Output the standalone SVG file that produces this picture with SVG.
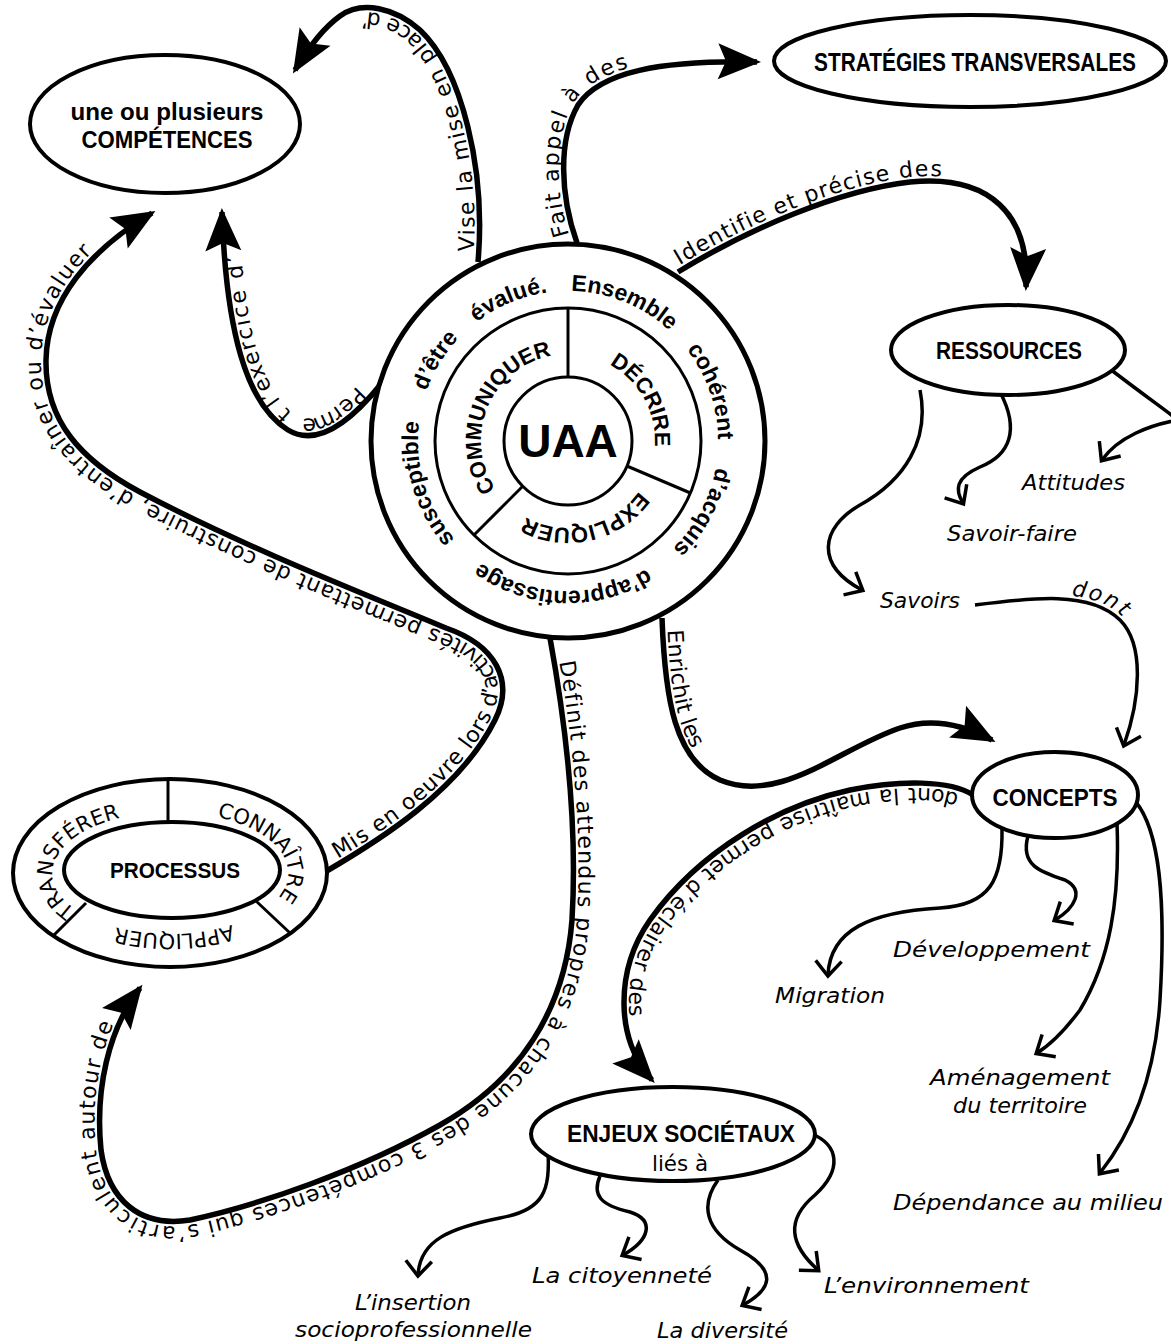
<svg xmlns="http://www.w3.org/2000/svg" width="1171" height="1344" viewBox="0 0 1171 1344">
<defs>
<style>
.n{fill:#fff;stroke:#000;stroke-width:4}
.c{fill:none;stroke:#000;stroke-width:5.5;marker-end:url(#big)}
.t{fill:none;stroke:#000;stroke-width:3.5;marker-end:url(#chev)}
.d{fill:none;stroke:#000;stroke-width:3}
.lbl{font-family:"DejaVu Sans",sans-serif;font-size:22px;fill:#000}
.b{font-family:"Liberation Sans",Arial,sans-serif;font-weight:bold;fill:#000}
.it{font-family:"DejaVu Sans",sans-serif;font-style:italic;font-size:22px;fill:#000}
.ring{font-family:"DejaVu Sans",sans-serif;font-size:21px;fill:#000}
</style>
<marker id="big" markerUnits="userSpaceOnUse" viewBox="-42 -20 48 40" markerWidth="48" markerHeight="40" refX="0" refY="0" orient="auto" overflow="visible"><path d="M4,0 L-39,-18 L-31,0 L-39,18 Z" fill="#000"/></marker>
<marker id="chev" markerUnits="userSpaceOnUse" viewBox="-18 -16 22 32" markerWidth="22" markerHeight="32" refX="0" refY="0" orient="auto" overflow="visible"><path d="M-14,-13 L1,0 L-14,13" fill="none" stroke="#000" stroke-width="3.5"/></marker>
<path id="ringO" d="M418,441 A150,150 0 0 1 718,441 A150,150 0 0 1 418,441 A150,150 0 0 1 718,441 A150,150 0 0 1 418,441"/>
<path id="ringM" d="M481,441 A87,87 0 0 1 655,441 A87,87 0 0 1 481,441 A87,87 0 0 1 655,441 A87,87 0 0 1 481,441"/>
<path id="pr1" d="M129.6,930.3 A118,61 0 0 1 178.2,812.2"/>
<path id="pr2" d="M174.1,812 A118,61 0 0 1 242.6,921.1"/>
<path id="pr3" d="M275.1,900.7 A118,61 0 0 1 71,906.2"/>
</defs>
<rect width="1171" height="1344" fill="#fff"/>

<g id="connectors">
<path id="pA" class="c" d="M478,262 C486,170 462,70 420,30 C395,8 362,0 340,16 C326,26 310,45 295,70"/>
<path id="pB" class="c" d="M381,384 C352,420 318,448 288,430 C246,404 226,330 222,212"/>
<path id="pC" class="c" d="M577,243 C560,195 558,140 578,105 C600,72 660,60 757,62"/>
<path id="pD" class="c" d="M678,272 C750,228 840,190 910,182 C990,174 1030,215 1026,287"/>
<path id="pE" class="c" d="M662,618 C665,700 675,760 720,780 C780,805 840,748 900,728 C930,718 962,724 992,740"/>
<path id="pF" class="c" d="M550,638 C565,720 578,820 572,920 C565,1010 520,1080 440,1125 C360,1170 260,1205 190,1220 C140,1228 108,1200 101,1150 C95,1090 108,1030 140,988"/>
<path id="pG" class="c" d="M325,872 C380,840 460,790 495,720 C515,680 495,645 446,628 C380,600 250,550 140,492 C80,460 45,420 46,360 C47,300 90,250 152,213"/>
<path id="pI5" class="c" d="M973,795 C950,780 900,780 850,790 C780,805 700,850 650,920 C615,970 615,1040 652,1080"/>
<path id="pH1" class="t" d="M920,390 C930,440 905,480 860,505 C820,528 815,565 862,590"/>
<path id="pH2" class="t" d="M1000,392 C1020,430 1010,455 980,467 C955,478 955,490 963,503"/>
<path id="pH3" class="t" d="M1110,369 C1140,392 1165,410 1178,420 C1150,425 1118,437 1102,460"/>
<path id="pH4" class="t" d="M975,605 C1030,598 1090,590 1120,620 C1145,645 1140,700 1124,745"/>
<path id="pI1" class="t" d="M1002,828 C1003,880 990,905 940,908 C870,912 830,930 828,975"/>
<path id="pI2" class="t" d="M1028,836 C1020,865 1040,872 1065,880 C1085,890 1075,908 1055,920"/>
<path id="pI3" class="t" d="M1117,823 C1120,900 1110,960 1080,1010 C1065,1030 1050,1045 1037,1053"/>
<path id="pI4" class="t" d="M1135,801 C1160,830 1166,900 1160,1000 C1155,1080 1130,1135 1100,1173"/>
<path id="pJ1" class="t" d="M548,1150 C550,1190 545,1210 500,1218 C450,1228 420,1240 418,1275"/>
<path id="pJ2" class="t" d="M600,1176 C592,1195 600,1205 630,1212 C655,1220 650,1240 623,1255"/>
<path id="pJ3" class="t" d="M718,1180 C700,1205 705,1230 740,1250 C780,1272 770,1290 743,1305"/>
<path id="pJ4" class="t" d="M810,1133 C840,1145 842,1170 815,1195 C785,1220 790,1245 818,1270"/>
</g>

<g id="connector-labels">
<text class="lbl" dy="-5" letter-spacing="1.8"><textPath href="#pA" startOffset="10">Vise la mise en place d’</textPath></text>
<text class="lbl" dy="17" letter-spacing="2.4"><textPath href="#pB" startOffset="18">Perme<tspan dx="22">t l’exercice d’</tspan></textPath></text>
<text class="lbl" dy="-5" letter-spacing="1.4"><textPath href="#pC" startOffset="10">Fait appel à des</textPath></text>
<text class="lbl" dy="-5" letter-spacing="1.1"><textPath href="#pD" startOffset="5">Identifie et précise des</textPath></text>
<text class="lbl" dy="-5" letter-spacing="0.3"><textPath href="#pE" startOffset="12">Enrichit les</textPath></text>
<text class="lbl" dy="-5" letter-spacing="1.15"><textPath href="#pF" startOffset="25">Définit des attendus propres à chacune des 3 compétences qui s’articulent autour de</textPath></text>
<text class="lbl" dy="-5" letter-spacing="0.9"><textPath href="#pG" startOffset="18">Mis en oeuvre lors d’activités permettant de construire, d’entraîner ou d’évaluer</textPath></text>
<text class="lbl" dy="-5" letter-spacing="1.1"><textPath href="#pI5" startOffset="14">dont la maîtrise permet d’éclairer des</textPath></text>
<text class="it" dy="-4" letter-spacing="1.5"><textPath href="#pH4" startOffset="96">dont</textPath></text>
</g>

<g id="node-uaa">
<circle cx="568" cy="441" r="197" fill="#fff" stroke="#000" stroke-width="5"/>
<circle cx="568" cy="441" r="133" fill="none" stroke="#000" stroke-width="3"/>
<line class="d" x1="568" y1="377" x2="568" y2="308"/>
<line class="d" x1="626.9" y1="466" x2="690.4" y2="493"/>
<line class="d" x1="522.7" y1="486.3" x2="474" y2="535"/>
<circle cx="568" cy="441" r="64" fill="#fff" stroke="#000" stroke-width="3"/>
<text class="b" x="568" y="457" font-size="46" text-anchor="middle">UAA</text>
<text class="b" font-size="23" text-anchor="middle"><textPath href="#ringO" startOffset="293">Ensemble</textPath></text>
<text class="b" font-size="23" text-anchor="middle"><textPath href="#ringO" startOffset="421">cohérent</textPath></text>
<text class="b" font-size="23" text-anchor="middle"><textPath href="#ringO" startOffset="544">d’acquis</textPath></text>
<text class="b" font-size="23" text-anchor="middle"><textPath href="#ringO" startOffset="712">d’apprentissage</textPath></text>
<text class="b" font-size="23" text-anchor="middle"><textPath href="#ringO" startOffset="898">susceptible</textPath></text>
<text class="b" font-size="23" text-anchor="middle"><textPath href="#ringO" startOffset="1024">d’être</textPath></text>
<text class="b" font-size="23" text-anchor="middle"><textPath href="#ringO" startOffset="1118">évalué.</textPath></text>
<text class="b" font-size="22" text-anchor="middle"><textPath href="#ringM" startOffset="580">COMMUNIQUER</textPath></text>
<text class="b" font-size="22" text-anchor="middle"><textPath href="#ringM" startOffset="229">DÉCRIRE</textPath></text>
<text class="b" font-size="22" text-anchor="middle"><textPath href="#ringM" startOffset="390">EXPLIQUER</textPath></text>
</g>

<g id="node-competences">
<ellipse class="n" cx="165" cy="124" rx="135" ry="69"/>
<text class="b" x="167" y="120" font-size="24" text-anchor="middle" textLength="193" lengthAdjust="spacingAndGlyphs">une ou plusieurs</text>
<text class="b" x="167" y="148" font-size="24" text-anchor="middle" textLength="171" lengthAdjust="spacingAndGlyphs">COMPÉTENCES</text>
</g>

<g id="node-strategies">
<ellipse class="n" cx="970" cy="61" rx="196" ry="46"/>
<text class="b" x="975" y="71" font-size="25" text-anchor="middle" textLength="322" lengthAdjust="spacingAndGlyphs">STRATÉGIES TRANSVERSALES</text>
</g>

<g id="node-ressources">
<ellipse class="n" cx="1008" cy="350" rx="117" ry="45"/>
<text class="b" x="1009" y="359" font-size="24" text-anchor="middle" textLength="146" lengthAdjust="spacingAndGlyphs">RESSOURCES</text>
</g>

<g id="node-concepts">
<ellipse class="n" cx="1055" cy="795" rx="83" ry="43"/>
<text class="b" x="1055" y="806" font-size="23" text-anchor="middle" textLength="125" lengthAdjust="spacingAndGlyphs">CONCEPTS</text>
</g>

<g id="node-enjeux">
<ellipse class="n" cx="673" cy="1134" rx="142" ry="47"/>
<text class="b" x="681" y="1142" font-size="24" text-anchor="middle" textLength="228" lengthAdjust="spacingAndGlyphs">ENJEUX SOCIÉTAUX</text>
<text class="lbl" x="680" y="1171" font-size="22" text-anchor="middle" textLength="56" lengthAdjust="spacingAndGlyphs">liés à</text>
</g>

<g id="node-processus">
<ellipse class="n" cx="170" cy="873" rx="157" ry="94"/>
<line class="d" x1="168" y1="779" x2="168" y2="826"/>
<line class="d" x1="256" y1="901" x2="290" y2="933"/>
<line class="d" x1="86" y1="903" x2="54" y2="935"/>
<ellipse class="n" cx="172" cy="870" rx="108" ry="48"/>
<text class="b" x="175" y="878" font-size="22" text-anchor="middle" textLength="130" lengthAdjust="spacingAndGlyphs">PROCESSUS</text>
<text class="ring" text-anchor="middle"><textPath href="#pr1" startOffset="50%">TRANSFÉRER</textPath></text>
<text class="ring" text-anchor="middle"><textPath href="#pr2" startOffset="50%">CONNAÎTRE</textPath></text>
<text class="ring" text-anchor="middle"><textPath href="#pr3" startOffset="50%">APPLIQUER</textPath></text>
</g>

<g id="leaf-labels">
<text class="it" x="880" y="608" textLength="80" lengthAdjust="spacingAndGlyphs">Savoirs</text>
<text class="it" x="947" y="541" textLength="130" lengthAdjust="spacingAndGlyphs">Savoir-faire</text>
<text class="it" x="1022" y="490" textLength="103" lengthAdjust="spacingAndGlyphs">Attitudes</text>
<text class="it" x="893" y="957" textLength="197" lengthAdjust="spacingAndGlyphs">Développement</text>
<text class="it" x="775" y="1003" textLength="110" lengthAdjust="spacingAndGlyphs">Migration</text>
<text class="it" x="930" y="1085" textLength="180" lengthAdjust="spacingAndGlyphs">Aménagement</text>
<text class="it" x="953" y="1113" textLength="134" lengthAdjust="spacingAndGlyphs">du territoire</text>
<text class="it" x="893" y="1210" textLength="270" lengthAdjust="spacingAndGlyphs">Dépendance au milieu</text>
<text class="it" x="355" y="1310" textLength="116" lengthAdjust="spacingAndGlyphs">L’insertion</text>
<text class="it" x="295" y="1337" textLength="237" lengthAdjust="spacingAndGlyphs">socioprofessionnelle</text>
<text class="it" x="532" y="1283" textLength="180" lengthAdjust="spacingAndGlyphs">La citoyenneté</text>
<text class="it" x="657" y="1338" textLength="131" lengthAdjust="spacingAndGlyphs">La diversité</text>
<text class="it" x="824" y="1293" textLength="205" lengthAdjust="spacingAndGlyphs">L’environnement</text>
</g>
</svg>
